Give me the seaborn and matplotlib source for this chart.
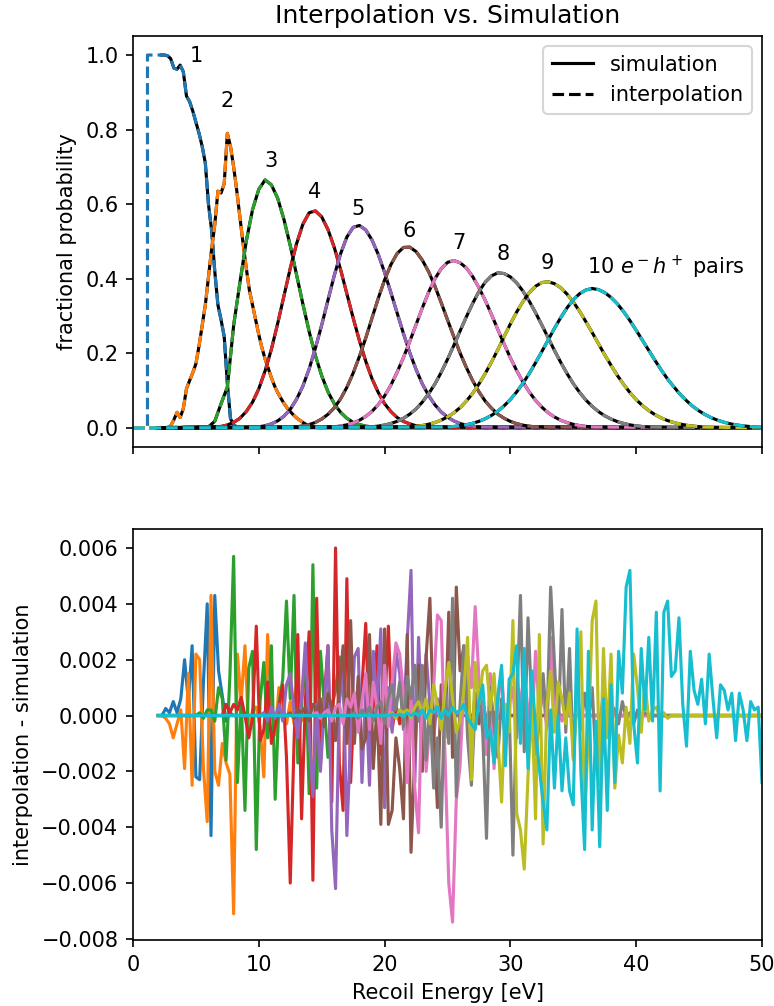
import numpy as np
import matplotlib
matplotlib.use("Agg")
import matplotlib.pyplot as plt
from matplotlib.lines import Line2D
import seaborn as sns

# ---------------------------------------------------------------------------
# Fractional probability of producing n electron-hole pairs vs recoil energy
# (simulated values, each curve sampled on its own energy window)
# ---------------------------------------------------------------------------
pair_counts = [1, 2, 3, 4, 5, 6, 7, 8, 9, 10]
prob_start = [2.25, 2.5, 6.0, 7.0, 10.0, 13.0, 16.0, 19.0, 22.0, 25.0]
prob_step = [0.25, 0.25, 0.5, 0.5, 0.5, 0.5, 0.5, 0.5, 0.5, 0.5]

prob_1 = [1.0, 1.0, 0.998, 0.99, 0.965, 0.962, 0.973, 0.955, 0.89, 0.875,
          0.85, 0.82, 0.79, 0.755, 0.71, 0.60, 0.53, 0.42, 0.33, 0.29,
          0.245, 0.12, 0.025, 0.008, 0.003, 0.001]
prob_2 = [0.0, 0.001, 0.006, 0.022, 0.042, 0.028, 0.052, 0.105, 0.127, 0.148,
          0.172, 0.22, 0.275, 0.33, 0.405, 0.48, 0.545, 0.635, 0.63, 0.655,
          0.79, 0.755, 0.70, 0.636, 0.565, 0.495, 0.43, 0.37, 0.33, 0.29,
          0.25, 0.215, 0.185, 0.16, 0.135, 0.113, 0.095, 0.08, 0.066, 0.054,
          0.044, 0.035, 0.027, 0.021, 0.015, 0.01, 0.006, 0.004, 0.002, 0.001]
prob_3 = [0.003, 0.018, 0.065, 0.11, 0.275, 0.39, 0.50, 0.585, 0.64, 0.665,
          0.652, 0.616, 0.559, 0.489, 0.411, 0.333, 0.259, 0.194, 0.140, 0.097,
          0.065, 0.042, 0.026, 0.015, 0.009, 0.005, 0.003]
prob_4 = [0.004, 0.008, 0.015, 0.026, 0.044, 0.069, 0.105, 0.153, 0.211, 0.280,
          0.354, 0.428, 0.494, 0.546, 0.577, 0.582, 0.566, 0.532, 0.484, 0.425,
          0.360, 0.295, 0.234, 0.179, 0.132, 0.095, 0.065, 0.044, 0.028, 0.0175,
          0.011, 0.006, 0.0035, 0.002]
prob_5 = [0.003, 0.006, 0.011, 0.019, 0.0315, 0.050, 0.077, 0.112, 0.158, 0.214,
          0.276, 0.343, 0.409, 0.467, 0.512, 0.538, 0.543, 0.531, 0.504, 0.465,
          0.417, 0.363, 0.308, 0.253, 0.202, 0.157, 0.118, 0.087, 0.062, 0.043,
          0.029, 0.019, 0.012, 0.0074, 0.0045, 0.0026]
prob_6 = [0.003, 0.0055, 0.009, 0.015, 0.024, 0.0366, 0.054, 0.078, 0.109, 0.147,
          0.192, 0.241, 0.295, 0.348, 0.397, 0.438, 0.468, 0.484, 0.485, 0.473,
          0.450, 0.419, 0.380, 0.336, 0.290, 0.245, 0.201, 0.162, 0.127, 0.097,
          0.072, 0.053, 0.037, 0.026, 0.0176, 0.0117, 0.0075, 0.0047, 0.003]
prob_7 = [0.003, 0.0052, 0.0085, 0.0134, 0.0207, 0.031, 0.0445, 0.063, 0.086, 0.115,
          0.150, 0.189, 0.232, 0.277, 0.322, 0.364, 0.400, 0.427, 0.444, 0.449,
          0.443, 0.429, 0.406, 0.376, 0.342, 0.304, 0.264, 0.225, 0.188, 0.154,
          0.123, 0.0965, 0.074, 0.0557, 0.041, 0.0295, 0.0208, 0.0144, 0.0098,
          0.0065, 0.0042, 0.0027]
prob_8 = [0.0032, 0.005, 0.0079, 0.012, 0.0179, 0.026, 0.037, 0.051, 0.0694, 0.0917,
          0.118, 0.149, 0.184, 0.221, 0.260, 0.298, 0.334, 0.366, 0.391, 0.408,
          0.416, 0.414, 0.405, 0.389, 0.367, 0.340, 0.309, 0.276, 0.242, 0.208,
          0.176, 0.146, 0.119, 0.0954, 0.075, 0.058, 0.0439, 0.0327, 0.0239,
          0.0171, 0.0121, 0.0083, 0.0057, 0.0038, 0.0025]
prob_9 = [0.0027, 0.0043, 0.0066, 0.010, 0.0146, 0.021, 0.0295, 0.0405, 0.0545, 0.072,
          0.093, 0.118, 0.146, 0.177, 0.210, 0.245, 0.279, 0.311, 0.339, 0.363,
          0.380, 0.390, 0.392, 0.387, 0.376, 0.359, 0.338, 0.313, 0.285, 0.256,
          0.226, 0.196, 0.168, 0.141, 0.117, 0.095, 0.076, 0.060, 0.0466, 0.0356,
          0.0268, 0.0198, 0.0145, 0.0104, 0.0073, 0.0051, 0.0035, 0.0024]
prob_10 = [0.0026, 0.004, 0.0059, 0.0087, 0.0126, 0.0178, 0.0248, 0.0338, 0.0452, 0.0594,
           0.0765, 0.0967, 0.120, 0.146, 0.175, 0.205, 0.236, 0.267, 0.296, 0.322,
           0.344, 0.360, 0.370, 0.374, 0.371, 0.363, 0.350, 0.333, 0.312, 0.288,
           0.262, 0.235, 0.208, 0.181, 0.155, 0.131, 0.110, 0.090, 0.073, 0.058,
           0.0457, 0.0355, 0.0271, 0.0205, 0.0152, 0.0111, 0.008, 0.0057, 0.004,
           0.0028, 0.0019]
prob_curves = [prob_1, prob_2, prob_3, prob_4, prob_5,
               prob_6, prob_7, prob_8, prob_9, prob_10]

# energy at which the interpolated single-pair probability switches on
threshold_energy = 1.15
sim_e_min, sim_e_max = 2.0, 50.0

# ---------------------------------------------------------------------------
# Residuals: interpolation - simulation, in units of 1e-3,
# on the grid 2.0, 2.3, ..., 50.0 eV (zero outside each listed window)
# ---------------------------------------------------------------------------
res_step = 0.3
res_start = [2.3, 2.3, 5.0, 7.4, 10.1, 12.2, 14.3, 17.3, 20.3, 20.3]

res_1 = [0.0, 0.25, 0.1, 0.5, 0.1, 0.6, 2.0, 0.5, 2.5, -2.2,
         -2.3, 1.2, 4.0, -4.3, 4.3, 1.6, 0.7, -0.2, 0.1, 0.0]
res_2 = [0.0, -0.1, -0.3, -0.8, -0.3, 0.2, -1.9, 1.5, -2.5, 2.2,
         2.0, -1.9, -3.8, 4.3, -2.0, -2.5, -1.0, -1.7, -2.1, -7.1,
         2.2, 0.5, 2.5, -0.7, 0.2, 0.3, -0.4, -2.2, 2.9, 0.4,
         -0.7, 1.0, 0.1, -0.3, 0.5, -0.3, 0.3, -0.2, 0.1, 0.0]
res_3 = [0.0, 0.1, -0.1, 0.2, 0.2, -0.2, 1.0, 0.6, -1.6, 1.4,
         5.7, -2.4, 0.6, -3.4, 1.7, 2.3, -4.8, 0.5, 1.9, -0.8,
         2.5, -3.0, 0.4, 1.3, 4.1, 0.6, 4.3, -1.7, 0.4, 2.1,
         -2.8, 5.4, -2.6, 2.3, 0.4, -1.5, 0.3, 0.9, 2.1, 0.8,
         -0.5, 0.5, 0.2, -0.3, 0.1, 0.0]
res_4 = [0.4, 0.1, 0.4, 0.2, 0.65, 0.0, -0.8, -0.1, 3.2, -0.9,
         -0.5, 1.2, -1.0, -0.4, 0.3, 1.1, -1.5, -6.0, -1.0, 2.9,
         -3.7, 0.5, 3.0, -5.9, 4.2, -1.7, 0.6, 2.5, -3.1, 6.0,
         -1.7, -3.4, 4.9, -2.4, 0.8, -0.3, 1.0, 3.3, -0.8, 0.3,
         2.5, -1.4, 0.2, 3.2, -0.5, 0.4, -0.3, 0.2, 0.0]
res_5 = [0.0, 0.1, -0.2, 0.3, -0.1, 0.4, -0.2, 1.1, 1.5, 0.2,
         -0.8, 0.6, 2.6, -0.6, -2.9, 0.4, -2.0, 0.3, 2.5, -4.1,
         -6.2, 0.4, 1.9, -4.3, -0.8, 2.1, 2.4, -2.4, 1.0, -2.5,
         2.3, 0.3, 3.1, -3.3, 1.0, -0.6, 2.3, 1.5, -0.5, 2.7,
         5.2, -2.4, 2.8, -0.6, 2.2, 0.4, -0.8, 0.6, 0.2, -0.3,
         0.1, 0.0]
res_6 = [0.0, 0.1, -0.1, 0.2, 0.1, 0.3, -0.2, 0.4, 0.2, 0.6,
         -0.4, 0.8, 0.3, -0.9, 1.0, 2.5, -1.0, 3.4, -1.0, 1.4,
         -1.2, -0.8, 2.9, -1.9, 0.4, -3.9, 3.1, -3.9, -3.4, -0.8,
         -1.9, -3.7, 2.9, -4.9, -1.4, 1.8, -2.0, 2.1, 4.2, -0.5,
         -3.3, 1.1, -0.8, 3.7, -1.5, 4.6, 1.6, 2.5, 0.4, -0.6,
         0.8, -0.3, 0.5, -0.2, 0.3, 0.1, -0.1, 0.0]
res_7 = [0.0, 0.1, -0.1, 0.1, 0.2, -0.2, 0.3, 0.4, -0.3, 0.6,
         0.3, 0.8, -0.6, 0.5, 1.5, -0.5, 1.2, 0.3, -1.0, 1.8,
         -0.4, 1.2, 2.6, 2.2, 0.8, -2.4, 0.6, -2.6, -4.2, 1.5,
         -2.0, -0.3, 1.0, 3.6, 3.4, -1.4, -6.0, -7.4, -3.0, -1.8,
         1.1, 2.1, 1.0, 3.9, 1.3, -0.1, -1.4, 1.5, -1.9, 0.4,
         1.6, -0.6, 0.4, 1.0, -0.8, 0.5, 1.5, 0.2, -0.5, 2.3,
         0.1, 0.8, -0.5, 2.8, 0.4, 0.2, -0.2, 0.2, 0.0]
res_8 = [0.0, 0.1, -0.1, 0.2, 0.0, 0.3, -0.2, 0.3, 0.5, -0.3,
         0.6, 1.1, 0.2, 1.2, -0.4, 1.4, 0.6, 1.8, -0.2, 1.8,
         -1.6, 0.5, -2.6, -0.8, -4.0, 1.0, -1.0, 4.2, -2.9, 0.4,
         2.5, -0.8, -2.5, 0.4, 1.0, -0.6, -4.4, 1.0, -0.3, -1.5,
         0.6, -0.9, 0.3, -5.0, 0.4, 4.3, -1.3, 3.5, 0.3, -1.4,
         -0.3, 1.5, -0.4, 4.6, 1.9, -0.7, 3.8, -0.6, 2.4, -1.5,
         1.0, -0.5, 0.8, -0.2, 1.0, -1.6, -0.3, 0.8, -0.2, 0.4,
         0.2, -0.3, 0.5, -0.1, 0.1, -0.3, 0.2, 0.0, 0.1, 0.0]
res_9 = [0.0, 0.1, -0.1, 0.2, 0.1, 0.2, -0.1, 0.3, 0.5, 0.1,
         0.6, -0.3, 1.1, 0.4, -0.5, 0.9, 1.9, 0.6, -0.6, -0.2,
         0.9, 2.8, -2.3, 1.9, 0.4, 1.6, 1.8, 0.2, 1.5, -0.8,
         -3.1, 0.4, -0.6, 3.4, -3.5, -4.1, -5.5, -2.2, 0.5, -3.7,
         2.9, -4.6, 0.4, 1.6, -0.6, 1.2, 0.6, -0.3, 0.8, -1.6,
         0.5, 3.0, -3.5, -0.8, 3.4, 4.1, -2.5, 2.4, -0.8, 2.2,
         -2.6, -0.7, -1.7, 0.3, -1.0, 2.2, 1.0, -0.6, 1.2, -0.2,
         0.2, 0.3, -0.1, 0.1, -0.1, 0.0]
res_10 = [0.0, 0.05, 0.0, 0.05, -0.05, 0.1, 0.0, 0.1, 0.0, 0.2,
          -0.1, 0.2, 0.1, 0.3, -0.1, 0.2, 0.0, 0.3, 0.1, 0.2,
          0.4, -0.1, -0.3, -0.5, 0.5, 1.1, -0.8, -0.5, -1.7, 0.7,
          1.8, -1.8, 1.3, 1.5, 2.5, -1.0, 2.4, -1.9, 1.6, -0.5,
          -1.9, -3.1, -4.1, 0.2, -2.6, 0.0, -2.7, -0.8, -2.7, -3.2,
          3.1, -2.0, -4.8, 2.3, -4.1, -0.2, -4.7, 0.6, -3.4, 1.1,
          -2.4, 2.3, 0.8, 4.6, 5.2, -0.3, -1.7, 2.4, 0.2, 2.8,
          -0.2, 3.7, -2.7, 3.7, 4.1, 1.4, 1.6, 3.5, 0.4, -1.1,
          2.3, 0.9, 0.4, 1.3, -0.3, 2.2, 0.6, -0.8, 1.1, 0.9,
          0.2, 0.8, -0.9, 0.8, 0.2, -0.9, 0.5, 0.2, 0.3, -2.4]
res_curves = [res_1, res_2, res_3, res_4, res_5,
              res_6, res_7, res_8, res_9, res_10]

# curve labels
label_text = ["1", "2", "3", "4", "5", "6", "7", "8", "9",
              r"10 $e^-h^+$ pairs"]
label_e = [5.0, 7.45, 10.97, 14.47, 17.9, 21.95, 25.93, 29.43, 32.97, 36.05]
label_p = [0.997, 0.877, 0.717, 0.633, 0.586, 0.527, 0.497, 0.467, 0.442, 0.432]

# ---------------------------------------------------------------------------
palette = sns.color_palette("tab10", 10)

fig = plt.figure(figsize=(7.74 / 1.5, 10.06 / 1.5), dpi=150)
ax1 = fig.add_axes([133 / 774, 1 - 447 / 1006, 629 / 774, 411 / 1006])
ax2 = fig.add_axes([133 / 774, 1 - 940 / 1006, 629 / 774, 411 / 1006], sharex=ax1)

# top: simulation (solid black) under interpolation (coloured dashes)
for k, n in enumerate(pair_counts):
    vals = list(prob_curves[k])
    e = list(prob_start[k] + prob_step[k] * np.arange(len(vals)))

    sim_e, sim_p = list(e), list(vals)
    if n != 1 and sim_e[0] > sim_e_min:
        sim_e, sim_p = [sim_e_min] + sim_e, [0.0] + sim_p
    if sim_e[-1] < sim_e_max:
        sim_e, sim_p = sim_e + [sim_e_max], sim_p + [0.0]

    if n == 1:
        int_e = [0.0, threshold_energy, threshold_energy] + e
        int_p = [0.0, 0.0, 1.0] + vals
    else:
        int_e = [0.0] + e
        int_p = [0.0] + vals
    if int_e[-1] < sim_e_max:
        int_e, int_p = int_e + [sim_e_max], int_p + [0.0]

    sns.lineplot(x=sim_e, y=sim_p, color="black", linewidth=1.5,
                 estimator=None, sort=False, ax=ax1)
    sns.lineplot(x=int_e, y=int_p, color=palette[k], linewidth=1.5,
                 linestyle="--", estimator=None, sort=False, ax=ax1)

for txt, xe, yp in zip(label_text, label_e, label_p):
    ax1.text(xe, yp, txt, ha="left" if len(txt) > 2 else "center",
             va="center", fontsize=10)

# bottom: residuals on the common grid
n_grid = int(round((sim_e_max - sim_e_min) / res_step)) + 1
res_grid = np.round(sim_e_min + res_step * np.arange(n_grid), 2)
for k in range(len(pair_counts)):
    r = np.zeros(n_grid)
    i0 = int(round((res_start[k] - sim_e_min) / res_step))
    r[i0:i0 + len(res_curves[k])] = res_curves[k]
    sns.lineplot(x=res_grid, y=r * 1e-3, color=palette[k], linewidth=1.5,
                 estimator=None, sort=False, ax=ax2)

ax1.set_xlim(0, 50)
ax1.set_ylim(-0.051, 1.051)
ax1.set_ylabel("fractional probability")
ax1.set_xlabel("")
ax1.set_title("Interpolation vs. Simulation", fontsize=12)
ax1.tick_params(labelbottom=False)
ax1.legend(handles=[Line2D([0], [0], color="black", lw=1.5, ls="-"),
                    Line2D([0], [0], color="black", lw=1.5, ls="--")],
           labels=["simulation", "interpolation"], loc="upper right")

ax2.set_ylim(-0.00804, 0.00668)
ax2.set_yticks([-0.008, -0.006, -0.004, -0.002, 0.0, 0.002, 0.004, 0.006])
ax2.set_xticks([0, 10, 20, 30, 40, 50])
ax2.set_xlabel("Recoil Energy [eV]")
ax2.set_ylabel("interpolation - simulation")

fig.savefig("out.png", dpi=150)
